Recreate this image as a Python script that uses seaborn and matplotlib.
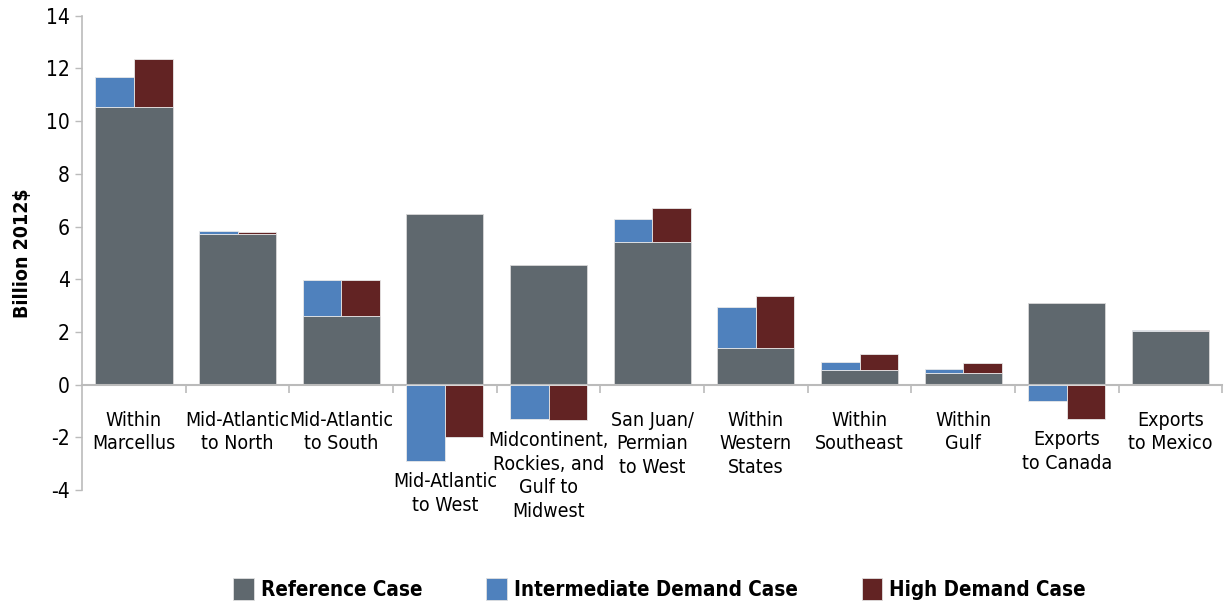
import matplotlib
matplotlib.use("Agg")
import matplotlib.pyplot as plt
import matplotlib.patches as mpatches
import numpy as np
import pandas as pd
import seaborn as sns

categories = [
    "Within\nMarcellus",
    "Mid-Atlantic\nto North",
    "Mid-Atlantic\nto South",
    "Mid-Atlantic\nto West",
    "Midcontinent,\nRockies, and\nGulf to\nMidwest",
    "San Juan/\nPermian\nto West",
    "Within\nWestern\nStates",
    "Within\nSoutheast",
    "Within\nGulf",
    "Exports\nto Canada",
    "Exports\nto Mexico",
]
reference = [10.52, 5.70, 2.62, 6.47, 4.54, 5.43, 1.38, 0.56, 0.43, 3.10, 2.02]
# change relative to the reference case
intermediate_change = [1.15, 0.14, 1.35, -2.91, -1.30, 0.85, 1.55, 0.31, 0.15, -0.63, 0.06]
high_change = [1.85, 0.10, 1.34, -2.00, -1.35, 1.27, 2.00, 0.61, 0.40, -1.31, 0.04]

GRAY = "#5f686e"
BLUE = "#4f81bd"
RED = "#622323"

sns.set_theme(style="white")
plt.rcParams["font.family"] = ["DejaVu Sans"]
plt.rcParams["font.stretch"] = "condensed"
plt.rcParams["axes.unicode_minus"] = False
plt.rcParams["text.color"] = "black"
plt.rcParams["axes.labelcolor"] = "black"

df = pd.DataFrame({
    "category": categories,
    "reference": reference,
    "intermediate": intermediate_change,
    "high": high_change,
})

fig = plt.figure(figsize=(12.26, 6.05), dpi=100)
ax = fig.add_axes([0.067, 0.19, 0.930, 0.784])

width = 0.744
sns.barplot(data=df, x="category", y="reference", color=GRAY, width=width,
            edgecolor="#d8d8d8", linewidth=0.6, saturation=1, ax=ax)

x = np.arange(len(df))
half = width / 2
for col, color, offset in [("intermediate", BLUE, -half / 2), ("high", RED, half / 2)]:
    vals = df[col].to_numpy()
    bottoms = np.where(vals > 0, df["reference"].to_numpy(), 0)
    ax.bar(x + offset, vals, width=half, bottom=bottoms, color=color,
           edgecolor="#e8e8e8", linewidth=0.6, zorder=3)

ax.set_ylim(-4, 14)
ax.set_xlim(-0.5, len(df) - 0.55)
ax.set_yticks(range(-4, 15, 2))
ax.tick_params(axis="y", labelsize=15, length=5, width=1, color="#bbbbbb", pad=4, left=True,
               labelcolor="black")
ax.set_ylabel("Billion 2012$", fontsize=14, fontweight="bold", labelpad=10)
ax.set_xlabel("")

for s in ["top", "right"]:
    ax.spines[s].set_visible(False)
ax.spines["left"].set_color("#bbbbbb")
ax.spines["left"].set_linewidth(1.2)
ax.spines["bottom"].set_position(("data", 0))
ax.spines["bottom"].set_color("#bbbbbb")
ax.spines["bottom"].set_linewidth(1.5)

ax.set_xticks(np.arange(len(df)) + 0.5, minor=False)
ax.set_xticklabels([])
ax.tick_params(axis="x", bottom=True, length=6, width=1.2, color="#bbbbbb", direction="out")

# category labels sit under the lowest bar of each group
lows = np.minimum(df["intermediate"], df["high"]).clip(upper=0)
for xi, label, low in zip(x, categories, lows):
    y = min(-1.0, low - 0.42)
    ax.text(xi, y, label, ha="center", va="top", fontsize=14, linespacing=1.3)

handles = [mpatches.Patch(facecolor=c, edgecolor="#e0e0e0", linewidth=0.6) for c in (GRAY, BLUE, RED)]
fig.legend(handles, ["Reference Case", "Intermediate Demand Case", "High Demand Case"],
           loc="lower center", bbox_to_anchor=(0.538, -0.022), ncol=3, frameon=False,
           prop={"size": 14.8, "weight": "bold"}, handlelength=1.0, handleheight=1.25,
           columnspacing=3.1, handletextpad=0.35)

fig.savefig("out.png", dpi=100)
